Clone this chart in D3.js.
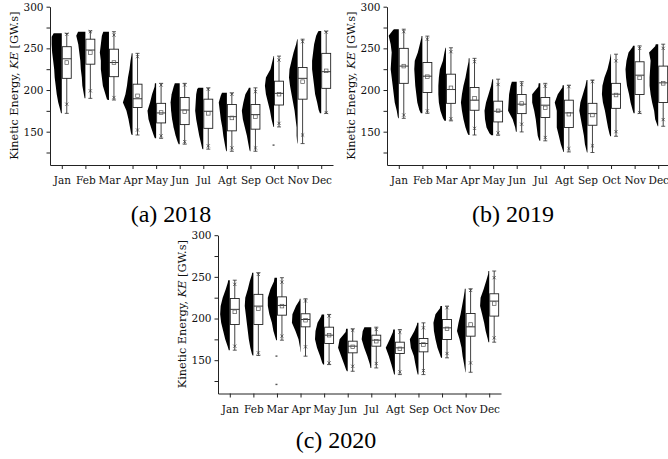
<!DOCTYPE html>
<html><head><meta charset="utf-8">
<script src="https://cdn.jsdelivr.net/npm/d3@7"></script>
<style>
body{margin:0;background:#fff} svg{display:block}
.cm{font-family:"DejaVu Serif","Liberation Serif",serif}
.cap{font-family:"Liberation Serif","Times New Roman",serif}
</style>
</head><body>
<svg id="c" width="668" height="459"></svg>
<script>
const months = ["Jan","Feb","Mar","Apr","May","Jun","Jul","Agt","Sep","Oct","Nov","Dec"];
const yTicks = [125,150,175,200,225,250,275,300];
const yLabelTicks = [150,200,250,300];
const captions = ["(a) 2018","(b) 2019","(c) 2020"];

// per month: [min, p1, q1, median, q3, p99, max, mean]
const stats2018 = [
 [172,183,214,237.5,252,267,268,233],
 [190,199,231,248,261,270,271,245],
 [188,191,216,233,249,266,270,233],
 [146,152,179,189.5,207,240,244,193],
 [142,145,160.5,172.5,184,206,208,173],
 [135,138,158.5,176,191,206,208,174],
 [129,133,154,174.5,189,201,202.6,172],
 [126.5,130.5,151,168,182.6,195,196.6,166.5],
 [126.5,130.5,153,170.5,182.6,198,202.6,168],
 [155.7,160,182,196,210.6,236,240.7,195],
 [135.7,146,189,214,227,258,261,210],
 [172,173,202,222,244,269.5,270.7,223]
];
const stats2019 = [
 [166,170,208,228.7,250,270,273,228.7],
 [172,175,197,216.6,233,261,264.7,216],
 [163,165.7,184,200.6,219,246,250.7,202.6],
 [146,154,175.7,187.8,203,234,238,190],
 [145.7,148.5,161.7,174.5,186.6,206.6,213,175],
 [149.7,159,171.7,183,194.6,206.6,210,183.8],
 [139,143,167,181.8,191,204.6,208,178.6],
 [125.7,129.7,155,172.5,187.8,204,205.8,171],
 [125,133,157.7,171.7,184,210,212,170],
 [144.5,150,178,195,208,235,243,194],
 [172,173,194.6,217.8,233.9,250,253,214.6],
 [156.5,164.5,185,208.6,228.7,250,255,208]
];
const stats2020 = [
 [162,166.8,192.8,211,224,241,246,208],
 [155.6,158.8,192.8,214.9,229,253,255,211.7],
 [174,178.8,204,215.7,226,243.7,249,214.9],
 [154.8,166,190,198.8,205.7,221,223.7,198],
 [144.7,146.7,170,180,189.6,203,204.9,180],
 [136.7,142.7,158.8,166.8,172.8,186,187.6,166],
 [140.7,146,166.8,174,180,186.8,189.6,172.8],
 [132.7,136,158,164.8,171.6,183.6,186.8,163.6],
 [132.7,137.5,160,170,176,188.8,194.8,168.8],
 [152.8,158,174.8,188.8,198.8,212.9,214.9,187.6],
 [135.5,146.7,178.8,190,206,233.7,235.7,192.8],
 [171.6,176.8,202.9,220.9,229.7,249,257,218]
];

// point-cloud profile: first 10-unit bin start and relative widths (bottom -> top)
const binStart2018 = [170,190,180,140,140,130,120,120,120,150,130,170];
const density2018 = [
 [1.5,3.5,5,6,7,7.5,8.5,9.5,10,10],
 [1.5,3,3.5,4.5,5,6,7,9],
 [2,3.5,6,7,8,8,9,8,7],
 [1.5,2.5,4,6,9.5,7,5.5,4.5,3,2,1],
 [2.5,5,7.5,8.5,6,4,1.5],
 [2,4,6,7.5,8.5,9,8,6],
 [1,2,4,5.5,7,8,7.5,7,6],
 [1,2,3.5,4.5,6,7,8,6],
 [1,2,3.5,5.5,7.5,8.5,7,5,2],
 [1,2.5,4,6,8,9,8,3.5,1.5,0.5],
 [0.5,1,1,2,3,4.5,6,7.5,8.5,8,6,4,1.5,0.5],
 [2.5,4,6,7,8,9,9,8,7,5,3]
];
const binStart2019 = [160,170,160,140,140,150,130,120,120,140,170,150];
const density2019 = [
 [1,2,4,5,6,7,8,7.5,7,8,10,6],
 [3,5,6,7,7.5,8,7.5,4.5,2.5,1],
 [3,5.5,7,7.5,7.5,7,6,3,1.5,0.5],
 [2,4,6,7.5,8.5,7.5,6,4,2.5,1],
 [3.5,6.5,8,8.5,7,4.5,2,1],
 [1.5,4,8.5,8,7.5,6],
 [1,2.5,3.5,4.5,6,8,8,2],
 [1,3,5,7,7,7,9,6,1.5],
 [1,2.5,3.5,5,6.5,8,7,4.5,2,1],
 [1.5,3,4.5,6,8,9,8.5,6.5,3.5,1.5,0.5],
 [2,4,5.5,7.5,8.5,9,8,6,2],
 [1,3,4,6,7.5,8.5,8.5,8,7.5,9,3]
];
const binStart2020 = [160,150,170,160,140,130,140,130,130,150,130,170];
const density2020 = [
 [2,4.5,6.5,8.5,9.5,9,7,4,2],
 [1.5,3,4.5,5.5,6.5,7.5,8.5,8,5.5,3.5,1.5],
 [1.5,3.5,5,7.5,9,9,6.5,3],
 [0.5,2,5,8.5,8,4.5,1],
 [2,4,7,9,8.5,6.5,3],
 [1.5,3.5,6.5,9.5,8,2],
 [1.5,4,7,9.5,8.5],
 [1.5,3.5,6,9,5,2],
 [1.5,3,4.5,7.5,8.5,4,1.5],
 [2,4.5,6.5,8,8.5,6.5,2],
 [0.5,1.5,3,4,6,8.5,7,5,3.5,2,1],
 [1.5,3.5,5,7,9,8.5,5.5,3,1]
];
// isolated low points [panel, month, value]
const isolatedPoints = [[0,"Oct",134],[2,"Mar",155],[2,"Mar",121]];

const panels = [
 {x0:50,  yTop:6.7,   stats:stats2018, starts:binStart2018, dens:density2018, cap:captions[0], capX:171, capY:222},
 {x0:387, yTop:6.7,   stats:stats2019, starts:binStart2019, dens:density2019, cap:captions[1], capX:513, capY:222},
 {x0:218, yTop:235.2, stats:stats2020, starts:binStart2020, dens:density2020, cap:captions[2], capX:336, capY:448}
];
const W = 283, H = 158.3;
const svg = d3.select("#c");

panels.forEach((p, pi) => {
  const g = svg.append("g");
  const x = d3.scalePoint(months, [p.x0, p.x0 + W]).padding(0.5);
  const y = d3.scaleLinear([110, 300], [p.yTop + H, p.yTop]);
  const step = x.step();
  const ws = d3.scaleLinear([0, 10], [0, step * 0.43]);
  const boxW = step * 0.38;

  // point clouds
  months.forEach((m, i) => {
    const s = p.stats[i], st = p.starts[i], d = p.dens[i];
    const lo = Math.max(s[0], st), hi = Math.min(s[6], st + 10 * d.length);
    const pts = [];
    d.forEach((w, k) => {
      const a = Math.max(lo, st + 10 * k), b = Math.min(hi, st + 10 * (k + 1));
      if (b > a) pts.push({v: (a + b) / 2, w});
    });
    pts.unshift({v: lo, w: d[0] * 0.5});
    pts.push({v: hi, w: d[d.length - 1] * 0.8});
    const t = x(m);
    const area = d3.area().y(q => y(q.v)).x0(t).x1(q => t - ws(q.w)).curve(d3.curveLinear);
    g.append("path").attr("d", area(pts)).attr("fill", "#000");
  });
  isolatedPoints.filter(o => o[0] === pi).forEach(o => {
    g.append("rect").attr("x", x(o[1]) - 1.5).attr("y", y(o[2]) - 0.6)
      .attr("width", 2).attr("height", 1.4).attr("fill", "#555");
  });

  // boxes
  months.forEach((m, i) => {
    const s = p.stats[i];
    const bx = x(m) + 0.5, cx = bx + boxW / 2;
    g.append("line").attr("x1", cx).attr("x2", cx).attr("y1", y(s[0])).attr("y2", y(s[6]))
      .attr("stroke", "#444").attr("stroke-width", 1);
    g.append("rect").attr("x", bx).attr("y", y(s[4])).attr("width", boxW).attr("height", y(s[2]) - y(s[4]))
      .attr("fill", "#fff").attr("stroke", "#222").attr("stroke-width", 0.9);
    g.append("line").attr("x1", bx).attr("x2", bx + boxW).attr("y1", y(s[3])).attr("y2", y(s[3]))
      .attr("stroke", "#222").attr("stroke-width", 0.9);
    g.append("rect").attr("x", cx - 1.8).attr("y", y(s[7]) - 1.8).attr("width", 3.6).attr("height", 3.6)
      .attr("fill", "none").attr("stroke", "#555").attr("stroke-width", 0.7);
    [s[1], s[5]].forEach(v => {
      const yy = y(v);
      g.append("path").attr("d", `M${cx-1.6},${yy-1.6}L${cx+1.6},${yy+1.6}M${cx-1.6},${yy+1.6}L${cx+1.6},${yy-1.6}`)
        .attr("stroke", "#333").attr("stroke-width", 0.7);
    });
    [s[0], s[6]].forEach(v => {
      g.append("line").attr("x1", cx - 2).attr("x2", cx + 2).attr("y1", y(v)).attr("y2", y(v))
        .attr("stroke", "#333").attr("stroke-width", 0.8);
    });
  });

  // axes
  const ay = g.append("g").attr("transform", `translate(${p.x0},0)`)
    .call(d3.axisLeft(y).tickValues(yTicks).tickFormat(v => yLabelTicks.includes(v) ? v : "")
      .tickSize(3.5).tickSizeOuter(0).tickPadding(3));
  const ax = g.append("g").attr("transform", `translate(0,${p.yTop + H})`)
    .call(d3.axisBottom(x).tickSize(4).tickSizeOuter(0).tickPadding(8));
  [ay, ax].forEach(a => {
    a.attr("font-family", null).attr("font-size", null);
    a.selectAll("text").attr("class", "cm").style("font-size", "10.5px").attr("fill", "#111");
    a.selectAll("line,path").attr("stroke", "#222").attr("stroke-width", 1);
  });

  // y label
  const yl = g.append("text").attr("class", "cm")
    .attr("transform", `translate(${p.x0 - 32},${p.yTop + 79}) rotate(-90)`)
    .attr("text-anchor", "middle").style("font-size", "11.3px").attr("fill", "#111");
  yl.append("tspan").text("Kinetic Energy, ");
  yl.append("tspan").attr("font-style", "italic").text("KE");
  yl.append("tspan").text(" [GW.s]");

  // caption
  svg.append("text").attr("class", "cap").attr("x", p.capX).attr("y", p.capY).attr("text-anchor", "middle")
    .style("font-size", "24px").attr("fill", "#000").text(p.cap);
});
</script>
</body></html>
